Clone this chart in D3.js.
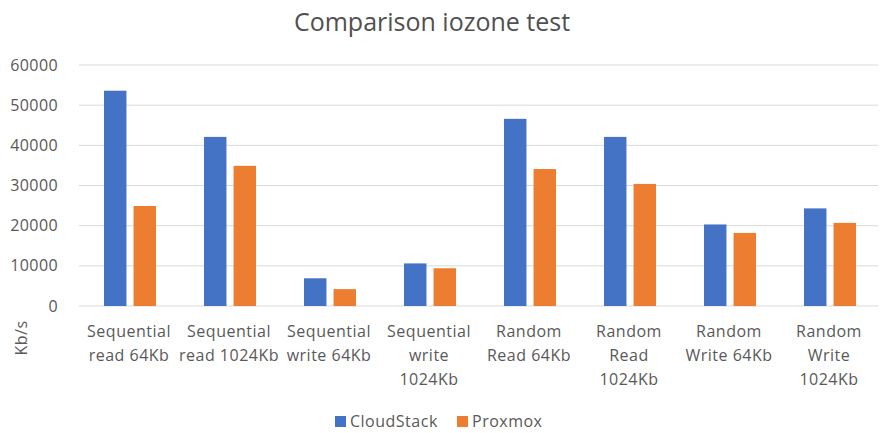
<!DOCTYPE html>
<html>
<head>
<meta charset="utf-8">
<script src="https://cdn.jsdelivr.net/npm/d3@7"></script>
<style>
  body { margin: 0; background: #fff; }
  text { font-family: "Open Sans", "Noto Sans", sans-serif; fill: #595959; }
</style>
</head>
<body>
<svg width="882" height="433"></svg>
<script>
// data
const categories = [
  'Sequential\nread 64Kb', 'Sequential\nread 1024Kb', 'Sequential\nwrite 64Kb',
  'Sequential\nwrite\n1024Kb', 'Random\nRead 64Kb', 'Random\nRead\n1024Kb',
  'Random\nWrite 64Kb', 'Random\nWrite\n1024Kb'
];
const seriesNames = ['CloudStack', 'Proxmox'];
const cloudStack = [53600, 42100, 6900, 10600, 46600, 42100, 20300, 24300];
const proxmox = [24900, 34900, 4200, 9400, 34100, 30400, 18200, 20700];
const yTicks = [0, 10000, 20000, 30000, 40000, 50000, 60000];
const colors = ['#4472C4', '#ED7D31'];

const svg = d3.select('svg');
const margin = { top: 65, left: 79, right: 4, bottom: 127 };
const W = +svg.attr('width'), H = +svg.attr('height');
const innerW = W - margin.left - margin.right;
const innerH = H - margin.top - margin.bottom;

const rows = categories.map((c, i) => ({ cat: c, vals: [cloudStack[i], proxmox[i]] }));

const x0 = d3.scaleBand().domain(categories).range([0, 800])
  .paddingInner(0.48).paddingOuter(0.24);
const x1 = d3.scaleBand().domain(seriesNames).range([0, x0.bandwidth()]).paddingInner(0.24);
const y = d3.scaleLinear().domain([0, 60000]).range([innerH, 0]);

const g = svg.append('g').attr('transform', `translate(${margin.left},${margin.top})`);

// gridlines
g.append('g').selectAll('line').data(yTicks).enter().append('line')
  .attr('x1', 0).attr('x2', innerW)
  .attr('y1', d => y(d)).attr('y2', d => y(d))
  .attr('stroke', '#d9d9d9').attr('stroke-width', 1);

// y axis
const yAxis = g.append('g').call(d3.axisLeft(y).tickValues(yTicks).tickSize(0).tickPadding(21).tickFormat(d3.format('d')));
yAxis.select('.domain').remove();
yAxis.selectAll('text').style('font-size', '16px').style('letter-spacing', '0.4px').attr('fill', '#595959');

// bars
const groups = g.selectAll('.grp').data(rows).enter().append('g')
  .attr('transform', d => `translate(${x0(d.cat) + 1},0)`);
groups.selectAll('rect').data(d => d.vals.map((v, i) => ({ key: seriesNames[i], v, i })))
  .enter().append('rect')
  .attr('x', d => x1(d.key))
  .attr('y', d => y(d.v))
  .attr('width', x1.bandwidth())
  .attr('height', d => innerH - y(d.v))
  .attr('fill', d => colors[d.i]);

// x axis labels
const xAxis = g.append('g').attr('transform', `translate(0,${innerH})`)
  .call(d3.axisBottom(x0).tickSize(0).tickFormat(''));
xAxis.select('.domain').remove();
xAxis.selectAll('.tick').each(function (d) {
  const t = d3.select(this).append('text')
    .attr('text-anchor', 'middle').style('font-size', '16px').style('letter-spacing', '0.5px')
    .attr('fill', '#595959');
  d.split('\n').forEach((line, k) => {
    t.append('tspan').attr('x', 0).attr('y', 31 + k * 24).text(line);
  });
});

// title
svg.append('text').attr('x', 432).attr('y', 31).attr('text-anchor', 'middle')
  .style('font-size', '25px').style('fill', '#505050').text('Comparison iozone test');

// y label
svg.append('text').attr('transform', 'translate(27,338) rotate(-90)')
  .attr('text-anchor', 'middle').style('font-size', '16px').style('letter-spacing', '0.5px').text('Kb/s');

// legend
const legend = svg.append('g').attr('transform', 'translate(335,422)');
const li = legend.selectAll('g').data(seriesNames).enter().append('g')
  .attr('transform', (d, i) => `translate(${i * 122},0)`);
li.append('rect').attr('x', 0).attr('y', -6).attr('width', 11).attr('height', 11)
  .attr('fill', (d, i) => colors[i]);
li.append('text').attr('x', 15).attr('y', 5).style('font-size', '16px').style('letter-spacing', '0.5px').text(d => d);
</script>
</body>
</html>
